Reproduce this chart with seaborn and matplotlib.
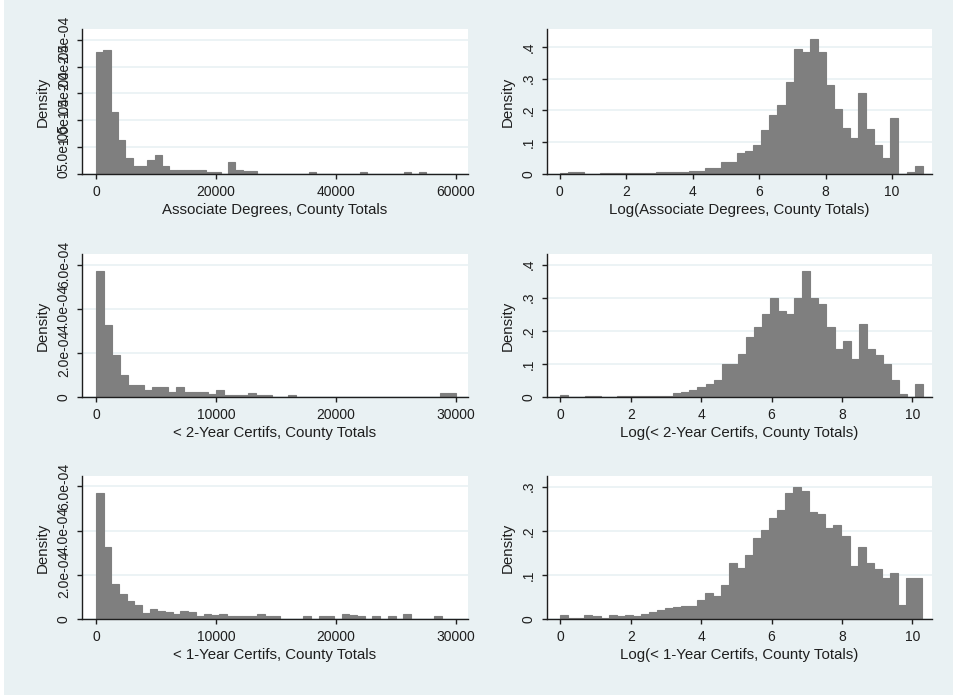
import matplotlib
matplotlib.use("Agg")
import matplotlib.pyplot as plt
from matplotlib.patches import Rectangle
import numpy as np
import pandas as pd
import seaborn as sns

# ---- data (density per bin, 45 bins each) ----
assoc_max = 55000
assoc_density = [2.28e-4, 2.30e-4, 1.16e-4, 6.3e-5, 2.9e-5,
                 1.55e-5, 1.55e-5, 2.7e-5, 3.6e-5, 1.4e-5,
                 7.4e-6, 7.4e-6, 7.4e-6, 7.4e-6, 7.4e-6,
                 4e-6, 4e-6, 0, 2.3e-5, 8e-6,
                 5e-6, 5e-6, 0, 0, 0,
                 0, 0, 0, 0, 4.5e-6,
                 0, 0, 0, 0, 0,
                 0, 4.5e-6, 0, 0, 0,
                 0, 0, 4.5e-6, 0, 4.5e-6]

cert2_max = 30000
cert2_density = [5.73e-4, 3.25e-4, 1.89e-4, 9.9e-5, 5.4e-5,
                 5.4e-5, 3.2e-5, 4.4e-5, 4.7e-5, 2.4e-5,
                 4.7e-5, 2.4e-5, 2.3e-5, 2.3e-5, 1.5e-5,
                 3.2e-5, 9e-6, 9e-6, 9e-6, 1.8e-5,
                 9e-6, 9e-6, 0, 0, 8e-6,
                 0, 0, 0, 0, 0,
                 0, 0, 0, 0, 0,
                 0, 0, 0, 0, 0,
                 0, 0, 0, 1.8e-5, 1.8e-5]

cert1_max = 28800
cert1_density = [5.70e-4, 3.28e-4, 1.57e-4, 1.12e-4, 8.2e-5,
                 6.3e-5, 2.6e-5, 4.4e-5, 3.6e-5, 3.0e-5,
                 2.1e-5, 3.6e-5, 3.0e-5, 1.2e-5, 2.1e-5,
                 1.8e-5, 2.1e-5, 1.2e-5, 1.2e-5, 1.2e-5,
                 1.2e-5, 2.1e-5, 1.2e-5, 1.2e-5, 0,
                 0, 0, 1.5e-5, 0, 1.5e-5,
                 1.5e-5, 0, 2.3e-5, 2.0e-5, 1.2e-5,
                 0, 1.2e-5, 0, 1.2e-5, 0,
                 2.2e-5, 0, 0, 0, 1.2e-5]

log_assoc_max = 10.92
log_assoc_density = [0.002, 0.007, 0.007, 0, 0,
                     0.002, 0.002, 0.002, 0.002, 0.002,
                     0.002, 0.002, 0.005, 0.005, 0.005,
                     0.005, 0.011, 0.011, 0.018, 0.018,
                     0.039, 0.039, 0.066, 0.072, 0.092,
                     0.138, 0.185, 0.217, 0.288, 0.394,
                     0.383, 0.423, 0.383, 0.280, 0.203,
                     0.145, 0.113, 0.254, 0.140, 0.092,
                     0.050, 0.177, 0, 0.007, 0.025]

log_cert2_max = 10.31
log_cert2_density = [0.005, 0, 0, 0.004, 0.004,
                     0, 0, 0.002, 0.002, 0.002,
                     0.002, 0.002, 0.002, 0.002, 0.012,
                     0.016, 0.020, 0.030, 0.040, 0.050,
                     0.100, 0.100, 0.130, 0.180, 0.210,
                     0.250, 0.300, 0.260, 0.250, 0.300,
                     0.380, 0.300, 0.280, 0.210, 0.146,
                     0.170, 0.116, 0.222, 0.146, 0.126,
                     0.100, 0.050, 0.010, 0, 0.040]

log_cert1_max = 10.27
log_cert1_density = [0.0098, 0.002, 0.002, 0.0098, 0.006,
                     0.002, 0.0098, 0.0075, 0.0098, 0.007,
                     0.012, 0.015, 0.020, 0.025, 0.028,
                     0.030, 0.030, 0.044, 0.060, 0.051,
                     0.078, 0.127, 0.115, 0.145, 0.183,
                     0.202, 0.228, 0.247, 0.285, 0.300,
                     0.289, 0.243, 0.238, 0.206, 0.213,
                     0.187, 0.119, 0.164, 0.128, 0.113,
                     0.093, 0.104, 0.032, 0.093, 0.093]

xlabels = ["Associate Degrees, County Totals",
           "Log(Associate Degrees, County Totals)",
           "< 2-Year Certifs, County Totals",
           "Log(< 2-Year Certifs, County Totals)",
           "< 1-Year Certifs, County Totals",
           "Log(< 1-Year Certifs, County Totals)"]

raw_xticks = [[0, 20000, 40000, 60000], [0, 10000, 20000, 30000], [0, 10000, 20000, 30000]]
log_xticks = [0, 2, 4, 6, 8, 10]
raw_yticks = [[0, 5e-5, 1e-4, 1.5e-4, 2e-4, 2.5e-4], [0, 2e-4, 4e-4, 6e-4], [0, 2e-4, 4e-4, 6e-4]]
raw_yticklabels = [["0", "5.0e-05", "1.0e-04", "1.5e-04", "2.0e-04", "2.5e-04"],
                   ["0", "2.0e-04", "4.0e-04", "6.0e-04"],
                   ["0", "2.0e-04", "4.0e-04", "6.0e-04"]]
log_yticks = [[0, .1, .2, .3, .4], [0, .1, .2, .3, .4], [0, .1, .2, .3]]
log_yticklabels = [["0", ".1", ".2", ".3", ".4"], ["0", ".1", ".2", ".3", ".4"], ["0", ".1", ".2", ".3"]]

# ---- style ----
sns.set_style("white")
plt.rcParams["font.family"] = ["Liberation Sans", "DejaVu Sans"]
BG = "#e9f1f3"
BAR = "#7f7f7f"
INK = "#1e1e1e"

W, H = 954, 698
fig = plt.figure(figsize=(W / 100, H / 100), dpi=100, facecolor="white")
# graph region (thin white margin on the left and bottom, as in the reference)
fig.patches.append(Rectangle((4 / W, 3 / H), 1 - 4 / W, 1 - 3 / H,
                             transform=fig.transFigure, facecolor=BG,
                             edgecolor="none", zorder=-10))

# panel boxes in pixels: left, top, right, bottom
boxes = [(82, 29, 468, 174), (547, 29, 932, 174),
         (82, 254, 468, 397), (547, 254, 932, 397),
         (82, 476, 468, 619), (547, 476, 932, 619)]
xlims = [(-2333, 62000), (-0.38, 11.2),
         (-1167, 31000), (-0.38, 10.56),
         (-1167, 31000), (-0.38, 10.56)]
ylims = [2.70e-4, 0.456, 6.49e-4, 0.432, 6.47e-4, 0.324]

panels = [(assoc_density, assoc_max), (log_assoc_density, log_assoc_max),
          (cert2_density, cert2_max), (log_cert2_density, log_cert2_max),
          (cert1_density, cert1_max), (log_cert1_density, log_cert1_max)]

for i, ((dens, top), box) in enumerate(zip(panels, boxes)):
    l, t, r, b = box
    ax = fig.add_axes([l / W, 1 - b / H, (r - l) / W, (b - t) / H])
    ax.set_facecolor("white")
    nb = len(dens)
    width = top / nb
    df = pd.DataFrame({"x": width * (np.arange(nb) + 0.5), "w": dens})
    sns.histplot(data=df, x="x", weights="w", bins=nb, binrange=(0, top),
                 stat="count", color=BAR, alpha=1, edgecolor=BAR,
                 linewidth=0.8, ax=ax)
    row = i // 2
    if i % 2 == 0:
        xt = raw_xticks[row]
        yt, ytl = raw_yticks[row], raw_yticklabels[row]
    else:
        xt = log_xticks
        yt, ytl = log_yticks[row], log_yticklabels[row]
    ax.set_xlim(*xlims[i])
    ax.set_ylim(0, ylims[i])
    ax.set_xticks(xt)
    ax.set_xticklabels([str(v) for v in xt])
    ax.set_yticks(yt)
    ax.set_yticklabels(ytl, rotation=90, va="center")
    ax.set_axisbelow(True)
    ax.grid(axis="y", color=BG, linewidth=1.2)
    ax.grid(axis="x", visible=False)
    for s in ["top", "right"]:
        ax.spines[s].set_visible(False)
    for s in ["left", "bottom"]:
        ax.spines[s].set_color(INK)
        ax.spines[s].set_linewidth(1.0)
    ax.tick_params(axis="both", direction="out", length=3.5, width=1.0, color=INK,
                   labelcolor=INK, bottom=True, left=True)
    ax.tick_params(axis="x", labelsize=10, pad=4.5)
    ax.tick_params(axis="y", labelsize=10, pad=4.5)
    ax.set_xlabel(xlabels[i], fontsize=10.8, color=INK, labelpad=3)
    ax.set_ylabel("Density", fontsize=10.8, color=INK, labelpad=5)

fig.savefig("out.png", dpi=100, facecolor="white")
